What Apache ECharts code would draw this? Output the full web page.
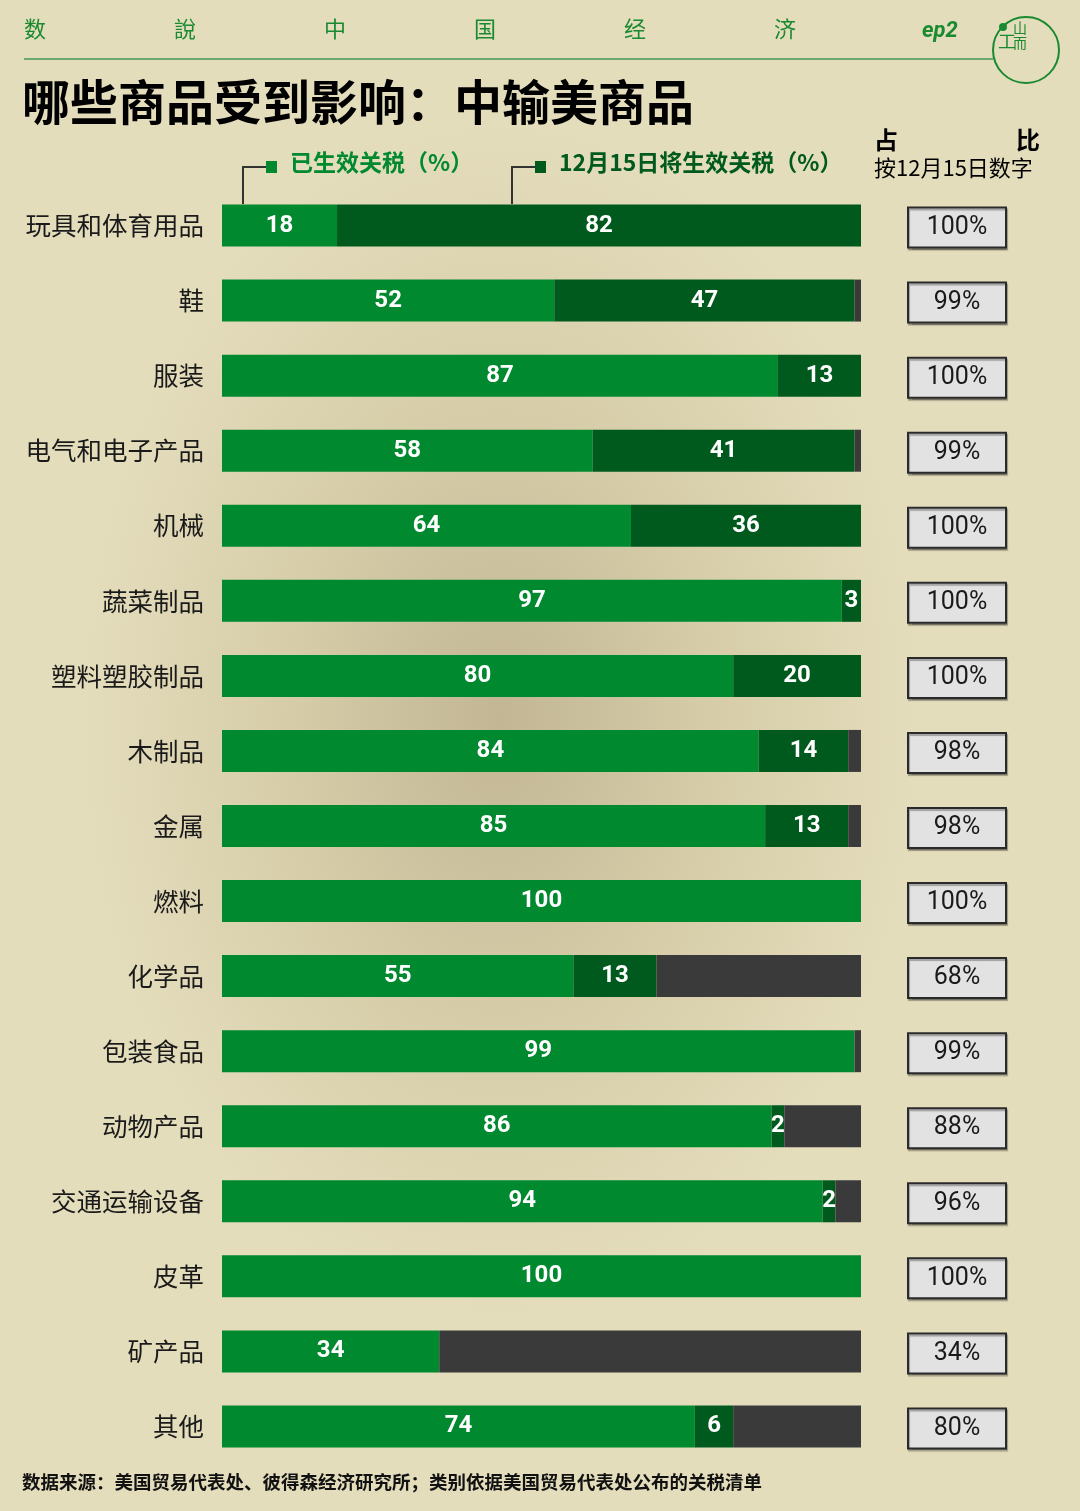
<!DOCTYPE html>
<html><head><meta charset="utf-8">
<script src="https://cdn.jsdelivr.net/npm/echarts@6/dist/echarts.min.js"></script>
<style>html,body{margin:0;padding:0;}
body{width:1080px;height:1511px;background:radial-gradient(ellipse 420px 600px at 500px 720px,#c2b694 0%,#d6cca8 50%,#e4ddbc 100%);}
#c{width:1080px;height:1511px;}</style></head>
<body><div id="c"></div>
<script>
const categories=['玩具和体育用品','鞋','服装','电气和电子产品','机械','蔬菜制品','塑料塑胶制品','木制品','金属','燃料','化学品','包装食品','动物产品','交通运输设备','皮革','矿产品','其他'];
const current=[18,52,87,58,64,97,80,84,85,100,55,99,86,94,100,34,74];
const upcoming=[82,47,13,41,36,3,20,14,13,0,13,0,2,2,0,0,6];
const share=[100,99,100,99,100,100,100,98,98,100,68,99,88,96,100,34,80];
const rest=current.map((v,i)=>Math.max(0,100-v-upcoming[i]));
const F='"Noto Sans CJK SC"';
const chart=echarts.init(document.getElementById('c'));
const lab={show:true,color:'#fff',fontSize:24,fontWeight:'bold',fontFamily:'Roboto, '+F,formatter:p=>p.value>0?p.value:''};
chart.setOption({
 animation:false,
 grid:[{left:222,width:639,top:188,height:1276},{left:907,width:100,top:190,height:1276}],
 xAxis:[{type:'value',min:0,max:100,show:false,gridIndex:0},{type:'value',min:0,max:1,show:false,gridIndex:1}],
 yAxis:[{type:'category',data:categories,inverse:true,gridIndex:0,axisLine:{show:false},axisTick:{show:false},
   axisLabel:{fontSize:25.5,color:'#1a1a1a',fontFamily:F,margin:18}},
  {type:'category',data:categories,inverse:true,gridIndex:1,show:false}],
 series:[
  {type:'bar',stack:'a',data:current,barWidth:42,itemStyle:{color:'#00892f'},label:lab},
  {type:'bar',stack:'a',data:upcoming,barWidth:42,itemStyle:{color:'#005a1d'},label:lab},
  {type:'bar',stack:'a',data:rest,barWidth:42,itemStyle:{color:'#3a3a3a'}},
  {type:'bar',xAxisIndex:1,yAxisIndex:1,data:share.map(()=>1),barWidth:42,
   itemStyle:{color:'#e2e2e2',borderColor:'#2a2a2a',borderWidth:2,shadowColor:'rgba(0,0,0,0.3)',shadowOffsetX:1,shadowOffsetY:2,shadowBlur:1},
   label:{show:true,position:'inside',fontSize:25,color:'#1a1a1a',fontFamily:'Roboto',formatter:p=>share[p.dataIndex]+'%'}}
 ],
 graphic:[
  ...['数','說','中','国','经','济'].map((t,i)=>({type:'text',left:24+i*150,top:18,style:{text:t,fontSize:22,fill:'#1a8a30',fontFamily:F}})),
  {type:'text',left:922,top:20,style:{text:'ep2',fontSize:22,fontWeight:'bold',fontStyle:'italic',fill:'#1a8a30',fontFamily:'Roboto'}},
  {type:'line',shape:{x1:24,y1:59,x2:993,y2:59},style:{stroke:'#6aaa70',lineWidth:2}},
  {type:'circle',shape:{cx:1026,cy:50,r:33},style:{fill:'none',stroke:'#1a8a30',lineWidth:2}},
  {type:'circle',shape:{cx:1003,cy:27,r:4},style:{fill:'#1a8a30'}},
  {type:'text',left:998,top:32,style:{text:'工',fontSize:18,fill:'#1a8a30',fontFamily:F}},
  {type:'text',left:1013,top:20,style:{text:'山\n而',fontSize:14,lineHeight:15,fill:'#1a8a30',fontFamily:F}},
  {type:'text',left:22,top:78,style:{text:'哪些商品受到影响：中输美商品',fontSize:48,fontWeight:'bold',fill:'#000',fontFamily:F}},
  {type:'text',left:874,top:128,style:{text:'占',fontSize:24,fontWeight:'bold',fill:'#000',fontFamily:F}},
  {type:'text',left:1016,top:128,style:{text:'比',fontSize:24,fontWeight:'bold',fill:'#000',fontFamily:F}},
  {type:'text',left:874,top:157,style:{text:'按12月15日数字',fontSize:22,fill:'#000',fontFamily:F}},
  {type:'polyline',shape:{points:[[243,204],[243,167],[270,167]]},style:{stroke:'#333',lineWidth:2,fill:'none'}},
  {type:'rect',shape:{x:266,y:161,width:11,height:12},style:{fill:'#00892f'}},
  {type:'text',left:290,top:151,style:{text:'已生效关税（%）',fontSize:23,fontWeight:'bold',fill:'#00892f',fontFamily:F}},
  {type:'polyline',shape:{points:[[512,204],[512,167],[538,167]]},style:{stroke:'#333',lineWidth:2,fill:'none'}},
  {type:'rect',shape:{x:535,y:161,width:11,height:12},style:{fill:'#005a1d'}},
  {type:'text',left:559,top:151,style:{text:'12月15日将生效关税（%）',fontSize:23,fontWeight:'bold',fill:'#005a1d',fontFamily:F}},
  {type:'text',left:22,top:1473,style:{text:'数据来源：美国贸易代表处、彼得森经济研究所；类别依据美国贸易代表处公布的关税清单',fontSize:18.5,fontWeight:'bold',fill:'#111',fontFamily:F}}
 ]
});
</script></body></html>
